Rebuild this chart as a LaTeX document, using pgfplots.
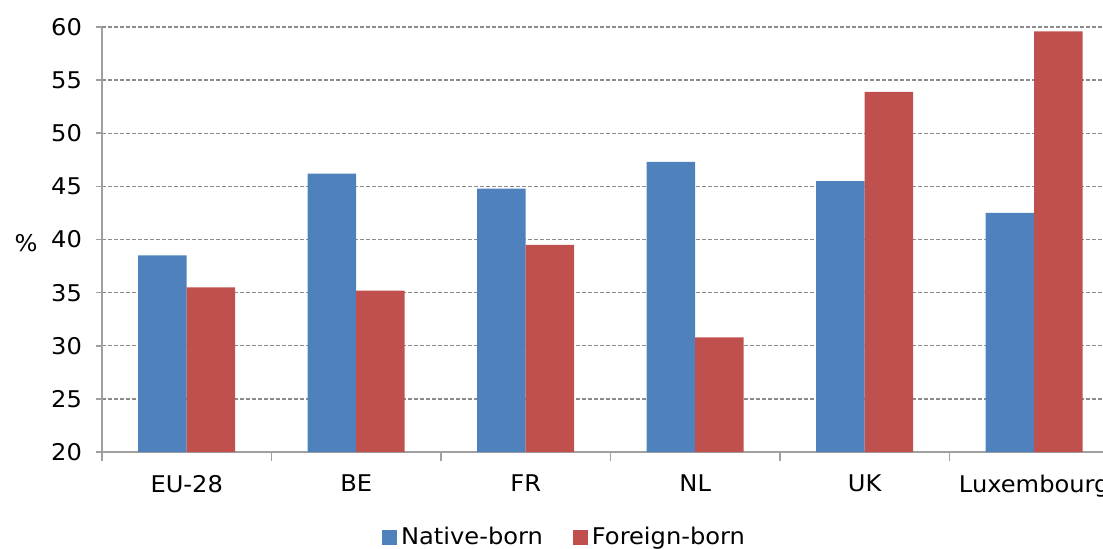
\documentclass[border=0pt]{standalone}
\usepackage{pgfplots}
\pgfplotsset{compat=1.18}
\usepackage{fontspec}
\setmainfont{DejaVu Sans}[FakeStretch=1.05]

\definecolor{nat}{HTML}{4F81BD}
\definecolor{frn}{HTML}{C0504D}
\definecolor{axgray}{HTML}{A0A0A0}
\definecolor{gridgray}{HTML}{8C8C8C}

\newcommand{\chartfont}{\fontsize{11.5}{13}\selectfont}

\begin{document}
\begin{tikzpicture}
\begin{axis}[
    name=ax,
    scale only axis,
    width=508.5pt, height=212.5pt,
    xmin=-0.5, xmax=5.5,
    ymin=20, ymax=60,
    ytick={20,25,...,60},
    xtick={0,...,5},
    xticklabels={EU-28,BE,FR,NL,UK,Luxembourg},
    minor xtick={-0.5,0.5,...,5.5},
    ybar=0pt, bar width=24.25pt,
    axis x line*=bottom, axis y line*=left,
    axis line style={axgray, line width=0.8pt},
    tick align=outside,
    major tick length=3pt, minor tick length=4.5pt,
    major x tick style={draw=none},
    minor x tick style={axgray, line width=0.8pt},
    major y tick style={axgray, line width=0.8pt},
    ymajorgrids=true,
    grid style={gridgray, line width=0.65pt, dash pattern=on 2pt off 1pt},
    /pgf/number format/assume math mode=true,
    tick label style={font=\chartfont, text=black},
    yticklabel style={xshift=-3.5pt},
    xticklabel style={yshift=-5pt},
    ylabel={\%},
    ylabel style={at={(axis description cs:0,0.492)}, rotate=-90, anchor=center, font=\chartfont, xshift=-38pt},
    legend style={at={(axis description cs:0.4558,0)}, anchor=center, yshift=-42.5pt,
        draw=none, font=\chartfont, legend columns=-1,
        /tikz/every even column/.append style={column sep=13pt}},
    legend image code/.code={\fill[#1] (0pt,-3.75pt) rectangle (7.5pt,3.75pt);},
]
\addplot[fill=nat, draw=none] coordinates {(0,38.5)(1,46.2)(2,44.8)(3,47.3)(4,45.5)(5,42.5)};
\addlegendentry{Native-born}
\addplot[fill=frn, draw=none] coordinates {(0,35.5)(1,35.2)(2,39.5)(3,30.8)(4,53.9)(5,59.6)};
\addlegendentry{Foreign-born}
\end{axis}
\pgfresetboundingbox
\path (ax.south west) ++(-51pt,-48pt) rectangle ++(551.5pt,274pt);
\end{tikzpicture}
\end{document}
